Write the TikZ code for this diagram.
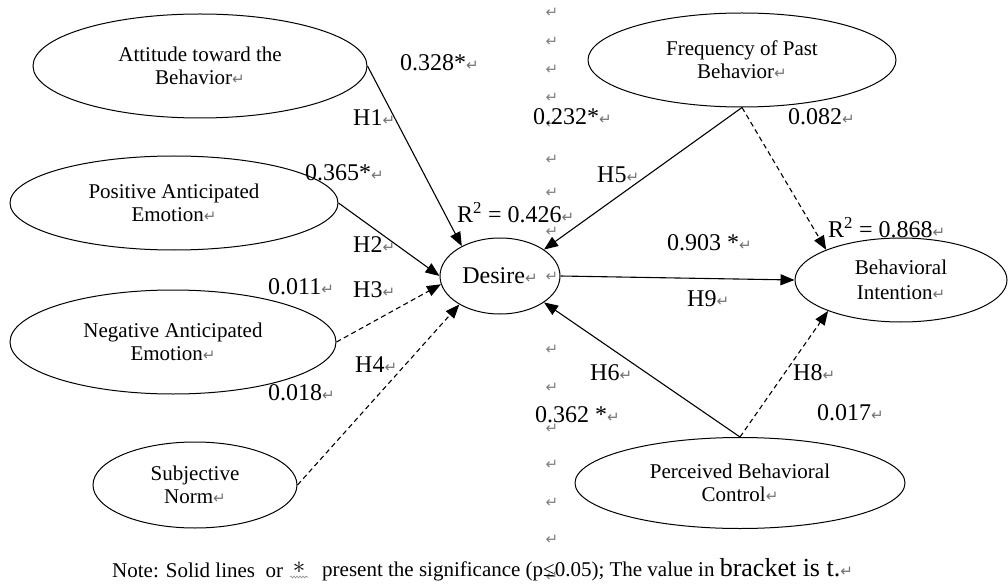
\documentclass[tikz,border=0pt]{standalone}
\usepackage{fontspec}
\setmainfont{Liberation Serif}
\newfontfamily\dejavu{DejaVu Sans}
\usetikzlibrary{shapes.geometric,arrows.meta,decorations.pathmorphing}
\newcommand{\parmark}{{\dejavu\fontsize{15}{15}\selectfont\textcolor{black!55}{↵}}}
\begin{document}
\begin{tikzpicture}[x=1pt,y=-1pt,
  latent/.style={ellipse,draw,line width=1pt,inner sep=0pt,align=center,font=\fontsize{21}{23}\selectfont},
  lab/.style={anchor=west,inner sep=0pt,font=\fontsize{24}{24}\selectfont},
  sig/.style={line width=1.1pt,-{Triangle[length=14pt,width=11pt]}},
  ns/.style={sig,dash pattern=on 5pt off 3.5pt},
  pmark/.style={inner sep=0pt,text=black!50,font=\dejavu\fontsize{15}{15}\selectfont},
  notetxt/.style={anchor=west,inner sep=0pt,font=\fontsize{21}{21}\selectfont}]
\fill[white] (0,0) rectangle (1008,585);
\useasboundingbox (0,0) rectangle (1008,585);

% column of paragraph marks
\foreach \yy [count=\i] in {13,42,70,98,124,160,193,232,277,350,388,429,465,503,540,577}
  \node[pmark] (col\i) at (552,\yy) {↵};

% latent variables
\node[latent,minimum width=334,minimum height=104] (att) at (200,66) {Attitude toward the\\Behavior\parmark};
\node[latent,minimum width=328,minimum height=94] (pos) at (174,203) {Positive Anticipated\\Emotion\parmark};
\node[latent,minimum width=326,minimum height=104] (neg) at (173,342) {Negative Anticipated\\Emotion\parmark};
\node[latent,minimum width=204,minimum height=86] (sub) at (195,485) {Subjective\\Norm\parmark};
\node[latent,minimum width=120,minimum height=76,font=\fontsize{24}{24}\selectfont] (des) at (500,276) {Desire\parmark};
\node[latent,minimum width=308,minimum height=94] (freq) at (742,60) {Frequency of Past\\Behavior\parmark};
\node[latent,minimum width=212,minimum height=84,font=\fontsize{21}{25}\selectfont] (bi) at (901,280) {Behavioral\\Intention\parmark};
\node[latent,minimum width=330,minimum height=91] (pbc) at (740,483) {Perceived Behavioral\\Control\parmark};

% paths
\draw[sig] (att.east) -- (des.142);
\draw[sig] (pos.east) -- (des.west);
\draw[ns] (neg.east) -- (des.188);
\draw[ns] (sub.east) -- (des.215);
\draw[sig] (freq.south) -- (des.31);
\draw[ns] (freq.south) -- (bi.158);
\draw[sig] (des.east) -- (bi.west);
\draw[sig] (pbc.north) -- (des.329);
\draw[ns] (pbc.north) -- (bi.203);

% labels
\node[lab] (l1) at (400,63) {0.328*\parmark};
\node[lab] (h1) at (353,118) {H1\parmark};
\node[lab] (l2) at (305,173) {0.365*\parmark};
\node[lab] (h2) at (353,245) {H2\parmark};
\node[lab] (l3) at (268,287) {0.011\parmark};
\node[lab] (h3) at (353,290) {H3\parmark};
\node[lab] (h4) at (355,365) {H4\parmark};
\node[lab] (l4) at (268,393) {0.018\parmark};
\node[lab] (r1) at (457,213) {R\textsuperscript{2} = 0.426\parmark};
\node[lab] (l5) at (533,117) {0.232*\parmark};
\node[lab] (h5) at (597,175) {H5\parmark};
\node[lab] (l7) at (788,117) {0.082\parmark};
\node[lab] (r2) at (828,228) {R\textsuperscript{2} = 0.868\parmark};
\node[lab] (l9) at (667,243) {0.903 *\parmark};
\node[lab] (h9) at (687,299) {H9\parmark};
\node[lab] (h6) at (590,373) {H6\parmark};
\node[lab] (l6) at (535,415) {0.362 *\parmark};
\node[lab] (h8) at (793,373) {H8\parmark};
\node[lab] (l8) at (817,413) {0.017\parmark};

% note
\node[notetxt] (note1) at (112,570) {Note: Solid lines\ \ or};
\node[inner sep=0pt,font=\fontsize{30}{30}\selectfont] (star) at (299,568) {$\ast$};
\draw[black!45,line width=0.6pt,decorate,decoration={snake,amplitude=0.9pt,segment length=3pt}]
  ([xshift=-9pt,yshift=-3pt]star.south) -- ([xshift=9pt,yshift=-3pt]star.south);
\node[notetxt] (note2) at (322,570) {present the significance (p≤0.05); The value in {\fontsize{26}{26}\selectfont bracket is t.}\parmark};
\end{tikzpicture}
\end{document}
